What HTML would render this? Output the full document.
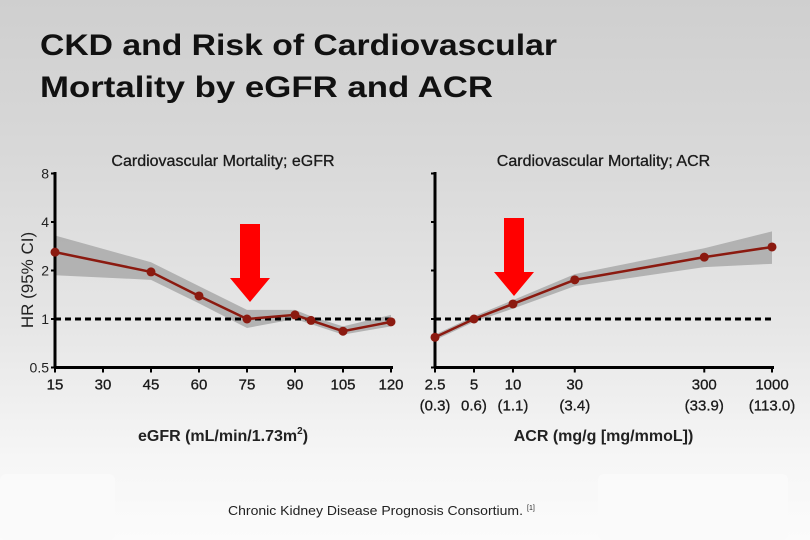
<!DOCTYPE html>
<html><head><meta charset="utf-8">
<style>
html,body{margin:0;padding:0;width:810px;height:540px;overflow:hidden}
body{background:linear-gradient(to bottom,#cfcfcf 0%,#d9d9d9 30%,#e6e6e6 60%,#f6f6f6 85%,#fbfbfb 100%);font-family:"Liberation Sans",sans-serif}
svg{position:absolute;left:0;top:0}
</style></head>
<body>
<svg width="810" height="540" xmlns="http://www.w3.org/2000/svg" id="root">
<rect x="0" y="474" width="115" height="66" rx="6" fill="#fafafa"/>
<rect x="598" y="474" width="190" height="66" rx="6" fill="#fafafa"/>
<g font-weight="bold" font-size="30" fill="#111">
<text x="40" y="55" textLength="517" lengthAdjust="spacingAndGlyphs">CKD and Risk of Cardiovascular</text>
<text x="40" y="97" textLength="453" lengthAdjust="spacingAndGlyphs">Mortality by eGFR and ACR</text>
</g>
<text x="228" y="515" font-size="13" fill="#222" textLength="295" lengthAdjust="spacingAndGlyphs">Chronic Kidney Disease Prognosis Consortium.</text>
<text x="527" y="510" font-size="7" fill="#222">[1]</text>
<g id="left"></g>
<g id="right"></g>
</svg>
<script>
const egfrX=[15,45,60,75,90,95,105,120];
const egfrHR=[2.6,1.96,1.39,1.0,1.06,0.98,0.84,0.96];
const egfrLo=[1.87,1.75,1.25,0.88,1.0,0.93,0.8,0.9];
const egfrHi=[3.3,2.25,1.6,1.14,1.14,1.04,0.9,1.06];
const egfrTicks=[15,30,45,60,75,90,105,120];
const acrX=[2.5,5,10,30,300,1000];
const acrHR=[0.77,1.0,1.24,1.75,2.42,2.8];
const acrLo=[0.74,0.96,1.16,1.6,2.1,2.2];
const acrHi=[0.8,1.04,1.31,1.9,2.75,3.5];
const acrTicks=[2.5,5,10,30,300,1000];
const acrTickSub=["(0.3)","0.6)","(1.1)","(3.4)","(33.9)","(113.0)"];
const yTicks=[0.5,1,2,4,8];

const NS="http://www.w3.org/2000/svg";
function mk(p,t,a){const e=document.createElementNS(NS,t);for(const k in a)e.setAttribute(k,a[k]);p.appendChild(e);return e;}
const y=v=>319-48.5*Math.log2(v);
const xL=v=>55+(v-15)*336/105;
const xR=v=>435+(Math.log10(v)-Math.log10(2.5))*337/(3-Math.log10(2.5));

function draw(g,xs,hr,lo,hi,xf,x0,x1,ticks,sub,title,xtitle,showY,arrowX,arrowTop){
  let t=mk(g,'text',{x:(x0+x1)/2,y:166,'text-anchor':'middle','font-size':'16',fill:'#1a1a1a','stroke':'#1a1a1a','stroke-width':'0.3'});
  t.textContent=title;
  
  
  let pts=xs.map((v,i)=>xf(v)+','+y(hi[i])).concat(xs.map((v,i)=>xf(v)+','+y(lo[i])).reverse());
  let band=mk(g,'polygon',{points:pts.join(' '),fill:'#a9a9a9',opacity:'0.85'});
  
  
  let rl=mk(g,'line',{x1:x0,x2:x1,y1:y(1),y2:y(1),stroke:'#000','stroke-width':'3','stroke-dasharray':'6,4'});
  
  
  let ya=mk(g,'line',{x1:x0,x2:x0,y1:172,y2:y(0.5)+1,stroke:'#000','stroke-width':'3'});
  
  
  let xa=mk(g,'line',{x1:x0-1,x2:x1+2,y1:y(0.5),y2:y(0.5),stroke:'#000','stroke-width':'3'});
  
  
  yTicks.forEach(v=>{
    let tk=mk(g,'line',{x1:x0-4,x2:x0,y1:y(v),y2:y(v),stroke:'#000','stroke-width':'2'});
    
    
    if(showY){let l=mk(g,'text',{x:x0-6,y:y(v)+5,'text-anchor':'end','font-size':'14',fill:'#222'});l.textContent=v;
      
      }
  });
  ticks.forEach((v,i)=>{
    let tk=mk(g,'line',{x1:xf(v),x2:xf(v),y1:y(0.5),y2:y(0.5)+5,stroke:'#000','stroke-width':'2'});
    
    
    let l=mk(g,'text',{x:xf(v),y:y(0.5)+22,'text-anchor':'middle','font-size':'15',fill:'#1a1a1a','stroke':'#1a1a1a','stroke-width':'0.3'});l.textContent=v;
    
    
    if(sub){let s=mk(g,'text',{x:xf(v),y:y(0.5)+43,'text-anchor':'middle','font-size':'15',fill:'#1a1a1a','stroke':'#1a1a1a','stroke-width':'0.3'});s.textContent=sub[i];
      
      }
  });
  let ln=mk(g,'polyline',{points:xs.map((v,i)=>xf(v)+','+y(hr[i])).join(' '),fill:'none',stroke:'#8b1a10','stroke-width':'2.5'});
  
  
  xs.forEach((v,i)=>{
    let c=mk(g,'circle',{cx:xf(v),cy:y(hr[i]),r:4.5,fill:'#8b1a10'});
    
    
  });
  let xt=mk(g,'text',{x:(x0+x1)/2,y:441,'text-anchor':'middle','font-size':'16','font-weight':'bold',fill:'#222'});
  xt.innerHTML=xtitle;
  
  
  let ax=arrowX;
  let ar=mk(g,'polygon',{points:`${ax-10},${arrowTop} ${ax+10},${arrowTop} ${ax+10},${arrowTop+54} ${ax+20},${arrowTop+54} ${ax},${arrowTop+78} ${ax-20},${arrowTop+54} ${ax-10},${arrowTop+54}`,fill:'#f00'});
  
  
}
draw(document.getElementById('left'),egfrX,egfrHR,egfrLo,egfrHi,xL,55,391,egfrTicks,null,'Cardiovascular Mortality; eGFR','eGFR (mL/min/1.73m<tspan font-size="10" dy="-7">2</tspan><tspan dy="7">)</tspan>',true,250,224);
draw(document.getElementById('right'),acrX,acrHR,acrLo,acrHi,xR,435,772,acrTicks,acrTickSub,'Cardiovascular Mortality; ACR','ACR (mg/g [mg/mmoL])',false,514,218);
const yt=mk(document.getElementById('left'),'text',{x:0,y:0,transform:'translate(33,280) rotate(-90)','text-anchor':'middle','font-size':'17',fill:'#222'});
yt.textContent='HR (95% CI)';


</script>
</body></html>
